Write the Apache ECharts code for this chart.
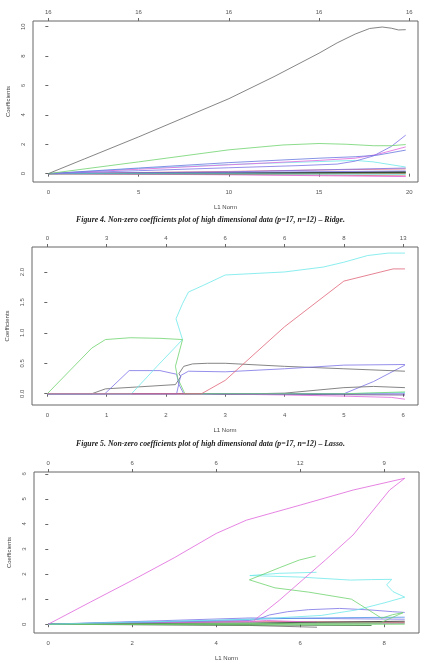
<!DOCTYPE html>
<html>
<head>
<meta charset="utf-8">
<script src="https://cdn.jsdelivr.net/npm/echarts@6/dist/echarts.min.js"></script>
<style>
  html, body { margin: 0; padding: 0; background: #fff; }
  #chart { width: 421px; height: 665px; }
</style>
</head>
<body>
<div id="chart"></div>
<script>
// ---- panel 1 : Ridge ----
const ridgeXTicks = [0, 5, 10, 15, 20];
const ridgeYTicks = [0, 2, 4, 6, 8, 10];
const ridgeDf = ['16', '16', '16', '16', '16'];
const ridgeBlack = [[0,0],[2,1.0],[5,2.5],[7.5,3.8],[10,5.1],[12.5,6.6],[15,8.2],[16,8.9],[17,9.5],[17.8,9.88],[18.5,9.98],[19,9.9],[19.4,9.78],[19.8,9.8]];
const ridgeGreen = [[0,0],[5,0.8],[10,1.62],[13,1.95],[15,2.05],[16.5,2.0],[18,1.9],[19,1.9],[19.8,1.98]];
const ridgePurple = [[0,0],[5,0.2],[10,0.4],[14,0.55],[16,0.65],[17,0.85],[18,1.2],[19,1.85],[19.8,2.62]];
const ridgeMagenta = [[0,0],[5,0.3],[10,0.6],[15,0.9],[17,1.05],[18.2,1.3],[19.8,1.82]];
const ridgeBlue = [[0,0],[5,0.38],[10,0.75],[15,1.05],[17,1.15],[18.2,1.25],[19.8,1.6]];
const ridgeCyan = [[0,0],[5,0.35],[10,0.62],[15,0.82],[17,0.9],[18,0.8],[19.8,0.45]];
const ridgeSmall = [
  [[0,0],[10,0.15],[15,0.25],[19.8,0.32]],
  [[0,0],[10,0.12],[19.8,0.38]],
  [[0,0],[10,0.05],[19.8,0.12]],
  [[0,0],[10,0.03],[19.8,0.05]],
  [[0,0],[10,-0.02],[19.8,0.08]],
  [[0,0],[10,-0.05],[19.8,-0.15]],
  [[0,0],[10,-0.08],[19.8,-0.2]],
  [[0,0],[10,-0.03],[19.8,0.0]],
  [[0,0],[10,0.08],[19.8,0.18]],
  [[0,0],[10,0.02],[19.8,0.1]],
  [[0,0],[10,-0.01],[19.8,-0.05]]
];

// ---- panel 2 : Lasso ----
const lassoXTicks = [0, 1, 2, 3, 4, 5, 6];
const lassoYTicks = [0, 0.5, 1, 1.5, 2];
const lassoDf = ['0', '3', '4', '6', '6', '8', '13'];
const lassoGreen = [[0,0],[0.75,0.75],[0.98,0.89],[1.4,0.92],[1.9,0.91],[2.28,0.89],[2.16,0.45],[2.2,0.25],[2.32,0.0],[5.0,0],[6.03,0.03]];
const lassoCyan = [[0,0],[1.42,0.0],[1.85,0.45],[2.28,0.89],[2.17,1.23],[2.28,1.48],[2.38,1.67],[2.63,1.78],[3.0,1.95],[4.0,2.0],[4.65,2.08],[5.0,2.16],[5.4,2.27],[5.75,2.31],[6.03,2.31]];
const lassoPurple1 = [[0,0],[0.97,0],[1.38,0.38],[1.9,0.38],[2.18,0.32],[2.22,0.15],[2.3,0.0],[6.03,0]];
const lassoPurple2 = [[0,0],[2.18,0],[2.25,0.3],[2.38,0.37],[3.0,0.36],[4.0,0.41],[5.0,0.47],[6.03,0.48]];
const lassoBlack1 = [[0,0],[0.75,0],[0.98,0.08],[1.5,0.11],[2.16,0.15],[2.25,0.28],[2.22,0.33],[2.3,0.45],[2.45,0.49],[2.7,0.5],[3,0.5],[4,0.45],[5,0.41],[6.03,0.37]];
const lassoBlack2 = [[0,0],[3.5,0],[4.0,0.01],[5.0,0.1],[5.5,0.12],[6.03,0.1]];
const lassoBlue2 = [[0,0],[5.0,0],[5.5,0.2],[6.03,0.47]];
const lassoMagenta = [[0,0],[2.6,0],[4.0,-0.02],[5.0,-0.04],[5.8,-0.06],[6.03,-0.09]];
const lassoDark = [[0,0],[2.6,0],[3.0,-0.01],[4.0,-0.01],[6.03,-0.02]];
const lassoTeal = [[0,0],[5.0,0],[6.03,0.02]];
const lassoRed = [[0,0],[2.6,0],[3.0,0.22],[4.0,1.1],[5.0,1.85],[5.83,2.05],[6.03,2.05]];

// ---- panel 3 ----
const enetXTicks = [0, 2, 4, 6, 8];
const enetYTicks = [0, 1, 2, 3, 4, 5, 6];
const enetDf = ['0', '6', '6', '12', '9'];
const enetMagenta = [[0,0],[1,0.88],[2,1.75],[3,2.65],[4,3.62],[4.72,4.15],[6,4.75],[7.26,5.35],[8.49,5.82],[8.13,5.35],[7.26,3.56],[6.6,2.56],[5.5,0.95],[4.9,0.15]];
const enetGreen = [[0,0],[7.9,0.05],[8.45,0.46],[8.2,0.38],[7.94,0.24],[7.22,1.0],[6.2,1.28],[5.4,1.45],[4.79,1.77],[5.5,2.25],[5.98,2.56],[6.37,2.72]];
const enetCyanA = [[0,0],[4.9,0.2],[5.3,0.24],[6.5,0.35],[7.34,0.57],[8.0,0.85],[8.49,1.08],[8.21,1.3],[8.06,1.57],[8.18,1.79],[7.7,1.78],[7.2,1.76],[6.0,1.88],[4.8,1.94]];
const enetCyanB = [[4.8,1.94],[5.5,2.03],[6.39,2.07]];
const enetPurple = [[0,0],[4.8,0.15],[5.0,0.2],[5.27,0.37],[5.7,0.5],[6.2,0.58],[6.94,0.63],[7.66,0.57],[8.2,0.5],[8.49,0.47]];
const enetBlue = [[0,0],[2,0.08],[4,0.15],[4.8,0.2],[6,0.24],[7,0.26],[8.49,0.28]];
const enetSmall = [
  [[0,0],[4.8,0.0],[6,0.05],[8.49,0.05]],
  [[0,0],[4.8,-0.05],[6.4,-0.12]],
  [[0,0],[4.8,-0.03],[7.7,-0.05]],
  [[0,0],[4.8,0.12],[6,0.1],[8.49,0.08]],
  [[0,0],[4.8,0.1],[5.2,0.15],[6.4,0.08]],
  [[0,0],[4.8,0.25],[8.49,0.2]],
  [[0,0],[4.8,0.05],[8.49,0.12]],
  [[0,0],[4.8,-0.02],[8.49,0.0]]
];

// washed-out R palette (thin lines)
const C = { k: '#666666', r: '#e06478', g: '#6fd36f', b: '#7b72e6', c: '#6ee9ea', m: '#e064dc', d: '#2f2f2f', br: '#8a5a2a' };

const font = 'Liberation Sans, Arial, sans-serif';
const grids = [
  { left: 33, top: 21, width: 385, height: 161 },
  { left: 32, top: 247, width: 386, height: 158 },
  { left: 34, top: 472, width: 385, height: 161 }
];
const ranges = [
  { x: [-0.85, 20.48], y: [-0.57, 10.39], xt: ridgeXTicks, yt: ridgeYTicks, df: ridgeDf, yf: v => String(v) },
  { x: [-0.258, 6.25], y: [-0.185, 2.41], xt: lassoXTicks, yt: lassoYTicks, df: lassoDf, yf: v => v.toFixed(1) },
  { x: [-0.34, 8.83], y: [-0.35, 6.07], xt: enetXTicks, yt: enetYTicks, df: enetDf, yf: v => String(v) }
];

const xAxis = [], yAxis = [];
ranges.forEach((r, i) => {
  const lab = { fontSize: 6, color: '#555', fontFamily: font };
  xAxis.push({
    type: 'value', gridIndex: i, min: r.x[0], max: r.x[1],
    axisLine: { show: false }, splitLine: { show: false },
    axisTick: { show: true, length: 3, customValues: r.xt, lineStyle: { color: '#666' } },
    axisLabel: Object.assign({ customValues: r.xt, margin: 7 }, lab),
    name: 'L1 Norm', nameLocation: 'middle', nameGap: 22,
    nameTextStyle: { fontSize: 6, color: '#444', fontFamily: font }
  });
  xAxis.push({
    type: 'value', gridIndex: i, position: 'top', min: r.x[0], max: r.x[1],
    axisLine: { show: false }, splitLine: { show: false },
    axisTick: { show: true, length: 3, customValues: r.xt, lineStyle: { color: '#666' } },
    axisLabel: Object.assign({ customValues: r.xt, margin: 6,
      formatter: v => r.df[r.xt.indexOf(v)] }, lab)
  });
  yAxis.push({
    type: 'value', gridIndex: i, min: r.y[0], max: r.y[1],
    axisLine: { show: false }, splitLine: { show: false },
    axisTick: { show: true, length: 3, customValues: r.yt, lineStyle: { color: '#666' } },
    axisLabel: Object.assign({ customValues: r.yt, margin: 7, rotate: 90, formatter: r.yf }, lab),
    name: 'Coefficients', nameLocation: 'middle', nameGap: 22,
    nameTextStyle: { fontSize: 6, color: '#444', fontFamily: font }
  });
});

const series = [];
function addLine(panel, data, color) {
  series.push({
    type: 'line', xAxisIndex: panel * 2, yAxisIndex: panel, data: data,
    showSymbol: false, symbol: 'none', silent: true,
    lineStyle: { width: 0.8, color: color }
  });
}
const smallColors = [C.r, C.b, C.d, C.g, '#2d6b2d', C.r, C.m, C.br, C.b, C.d, C.c];
ridgeSmall.forEach((d, j) => addLine(0, d, smallColors[j % smallColors.length]));
addLine(0, ridgeCyan, C.c);
addLine(0, ridgeMagenta, C.m);
addLine(0, ridgeBlue, '#6677e0');
addLine(0, ridgePurple, C.b);
addLine(0, ridgeGreen, C.g);
addLine(0, ridgeBlack, C.k);

addLine(1, lassoTeal, C.c);
addLine(1, lassoDark, '#553377');
addLine(1, lassoMagenta, C.m);
addLine(1, lassoBlue2, C.b);
addLine(1, lassoBlack2, C.k);
addLine(1, lassoBlack1, C.k);
addLine(1, lassoPurple1, C.b);
addLine(1, lassoPurple2, C.b);
addLine(1, lassoCyan, C.c);
addLine(1, lassoGreen, C.g);
addLine(1, lassoRed, C.r);

const enetSmallColors = [C.d, C.k, '#2d6b2d', C.r, C.m, C.b, C.d, C.g];
enetSmall.forEach((d, j) => addLine(2, d, enetSmallColors[j]));
addLine(2, enetBlue, '#4a8fe6');
addLine(2, enetPurple, C.b);
addLine(2, enetCyanA, C.c);
addLine(2, enetCyanB, C.c);
addLine(2, enetGreen, C.g);
addLine(2, enetMagenta, C.m);

const capRich = {
  b: { fontFamily: 'Liberation Serif, serif', fontSize: 7.8, fontWeight: 'bold', fontStyle: 'italic', color: '#222' },
  i: { fontFamily: 'Liberation Serif, serif', fontSize: 7.8, fontStyle: 'italic', color: '#222' }
};

const chart = echarts.init(document.getElementById('chart'));
chart.setOption({
  animation: false,
  backgroundColor: '#fff',
  title: [
    { text: '{b|Figure 4.}{i| Non-zero coefficients plot of high dimensional data (p=17, n=12) – Ridge.}',
      left: 'center', top: 216, padding: 0, textStyle: { rich: capRich } },
    { text: '{b|Figure 5.}{i| Non-zero coefficients plot of high dimensional data (p=17, n=12) – Lasso.}',
      left: 'center', top: 440, padding: 0, textStyle: { rich: capRich } }
  ],
  grid: grids.map(g => Object.assign({ show: true, borderColor: '#666', borderWidth: 1, backgroundColor: 'transparent', outerBoundsMode: 'none' }, g)),
  xAxis: xAxis,
  yAxis: yAxis,
  series: series
});
</script>
</body>
</html>
